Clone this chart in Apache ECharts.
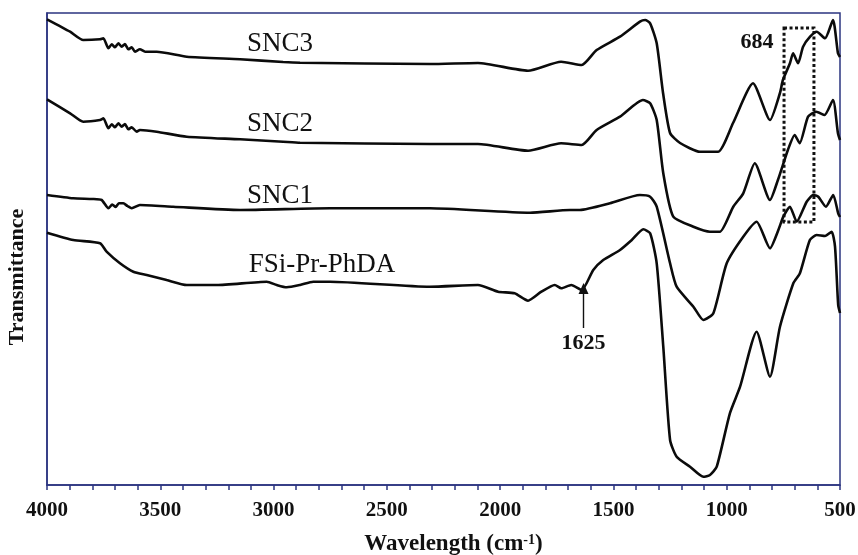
<!DOCTYPE html>
<html>
<head>
<meta charset="utf-8">
<script src="https://cdn.jsdelivr.net/npm/echarts@6/dist/echarts.min.js"></script>
<style>
  html, body { margin: 0; padding: 0; background: #fff; }
  #chart { width: 858px; height: 555px; }
</style>
</head>
<body>
<div id="chart"></div>
<script>
// FTIR spectra: [wavenumber (cm-1), transmittance (arb. units, stacked)]
const snc3 = [
  [4000, 465.7], [3898, 453.3], [3840, 445], [3766, 445.7], [3751, 446.7],
  [3729, 436.7], [3714, 440.7], [3700, 437.7], [3685, 441.7], [3670, 438.3],
  [3656, 441], [3641, 435.7], [3626, 437.7], [3612, 433.3], [3590, 435.7],
  [3567, 433.3], [3516, 433.3], [3383, 428.3], [3148, 425.7], [2958, 423],
  [2883, 422.3], [2310, 421], [2098, 422], [1877, 414.3], [1731, 423.3],
  [1640, 420], [1574, 435], [1471, 448.3], [1383, 463.3], [1360, 465],
  [1338, 461.7], [1309, 441.7], [1281, 392], [1250, 352], [1206, 342],
  [1118, 333.3], [1038, 333.3], [972, 362], [884, 401.7], [809, 365],
  [765, 392], [752, 405], [721, 421.7], [707, 431.7], [685, 421.7],
  [663, 438.3], [632, 448.3], [603, 453.3], [566, 446.7], [531, 465],
  [509, 431.7], [500, 428]
];
const snc2 = [
  [4000, 385.7], [3898, 371.7], [3840, 363.3], [3766, 365], [3751, 366.7],
  [3729, 356.7], [3714, 360.7], [3700, 357.7], [3685, 361.7], [3670, 358.3],
  [3656, 361], [3641, 355.7], [3626, 357.7], [3604, 353.3], [3590, 355],
  [3516, 353.3], [3383, 348.3], [3148, 345.7], [2958, 343.3], [2883, 342.3],
  [2310, 341], [2098, 341], [1877, 334.3], [1731, 341.7], [1640, 340],
  [1574, 355], [1471, 368.3], [1370, 385], [1338, 381.7], [1309, 365],
  [1280, 311.7], [1236, 268.3], [1147, 258.3], [1074, 253.3], [1030, 253.3],
  [971, 278.3], [927, 291.7], [876, 321.7], [809, 285], [774, 305],
  [730, 335], [700, 350], [678, 341.7], [641, 368.3], [605, 373.3],
  [568, 370], [531, 385], [509, 351.7], [500, 345]
];
const snc1 = [
  [4000, 290], [3884, 286.7], [3800, 286], [3759, 285], [3729, 276.7],
  [3712, 280.5], [3697, 278], [3683, 281.7], [3663, 281.7], [3645, 279],
  [3626, 276.7], [3590, 280], [3443, 278.3], [3148, 275], [2751, 276.7],
  [2310, 276.7], [1868, 272.3], [1692, 275], [1648, 275], [1515, 281.7],
  [1383, 290], [1338, 288.3], [1309, 278.3], [1250, 221.7], [1221, 198.3],
  [1147, 178.3], [1103, 165], [1059, 171.7], [1000, 221.7], [927, 248.3],
  [868, 263.3], [809, 236.7], [772, 255], [750, 268.3], [721, 278.3],
  [691, 263.3], [647, 283.3], [618, 290], [596, 288.3], [562, 278.3],
  [530, 290], [508, 271.7], [500, 268]
];
const fsi = [
  [4000, 252.3], [3884, 245], [3766, 241.7], [3737, 233.3], [3678, 221.7],
  [3619, 213.3], [3560, 210], [3472, 205], [3383, 200], [3251, 200],
  [3030, 203.3], [2986, 200], [2942, 197.7], [2883, 200], [2825, 203.3],
  [2751, 203.3], [2310, 198.3], [2098, 200], [2009, 193.3], [1936, 191.7],
  [1877, 184.3], [1818, 193.3], [1759, 200], [1730, 196.7], [1686, 200],
  [1640, 195], [1589, 215], [1545, 225], [1471, 235], [1419, 245],
  [1368, 255.7], [1338, 251.7], [1309, 221.7], [1280, 138.3], [1250, 45],
  [1221, 28.3], [1162, 18.3], [1103, 8.3], [1074, 10], [1044, 18.3],
  [986, 71.7], [941, 98.3], [868, 153.3], [809, 108.3], [765, 158.3],
  [706, 201.7], [677, 211.7], [633, 245], [603, 250], [566, 249],
  [537, 253.3], [522, 238.3], [508, 180], [500, 172]
];
const seriesNames = ['SNC3', 'SNC2', 'SNC1', 'FSi-Pr-PhDA'];
// label anchors [wavenumber, value]
const nameAnchors = [[2972, 441], [2972, 361], [2972, 289], [2786, 220]];
const peakBox = [[747, 457], [615, 263]];   // dotted box round 684
const peakBoxLabel = [866, 442.5];
const arrowFrom = [1632, 157];
const arrowTo = [1632, 196.5];

const navy = '#2b3580';
const serif = '"Liberation Serif", "Times New Roman", serif';

const chart = echarts.init(document.getElementById('chart'));

function nameMark(i) {
  return {
    symbol: 'rect',
    symbolSize: 0,
    silent: true,
    label: {
      show: true,
      position: 'inside',
      fontFamily: serif,
      fontSize: 27,
      color: '#111',
      formatter: seriesNames[i],
    },
    data: [{ coord: nameAnchors[i] }],
  };
}

const lineStyle = { color: '#0b0b0b', width: 2.6 };
const base = {
  type: 'line',
  showSymbol: false,
  smooth: 0.2,
  lineStyle,
  itemStyle: { color: '#0b0b0b' },
  silent: true,
  animation: false,
};

chart.setOption({
  animation: false,
  grid: {
    left: 47, right: 18, top: 13, bottom: 70,
    containLabel: false,
    outerBoundsMode: 'none',
    show: true,
    borderColor: navy,
    borderWidth: 1.5,
  },
  xAxis: {
    type: 'value',
    inverse: true,
    min: 500,
    max: 4000,
    interval: 500,
    axisLine: { lineStyle: { color: navy, width: 1.5 } },
    axisTick: { length: 5, lineStyle: { color: navy, width: 1.5 } },
    minorTick: { show: true, splitNumber: 5, length: 5, lineStyle: { color: navy, width: 1.5 } },
    splitLine: { show: false },
    axisLabel: {
      fontFamily: serif, fontWeight: 'bold', fontSize: 21, color: '#111', margin: 15,
      formatter: v => String(v),
    },
    name: 'Wavelength (cm{sup|-1})',
    nameLocation: 'middle',
    nameGap: 48,
    nameTextStyle: {
      fontFamily: serif, fontWeight: 'bold', fontSize: 23, color: '#111',
      padding: [0, 0, 0, 20],
      rich: { sup: { fontFamily: serif, fontWeight: 'bold', fontSize: 14, color: '#111', verticalAlign: 'top', padding: [0, 0, 9, 0] } },
    },
  },
  yAxis: {
    type: 'value',
    min: 0,
    max: 472,
    axisLine: { show: true, lineStyle: { color: navy, width: 1.5 } },
    axisTick: { show: false },
    axisLabel: { show: false },
    splitLine: { show: false },
    name: 'Transmittance',
    nameLocation: 'middle',
    nameGap: 19,
    nameTextStyle: {
      fontFamily: serif, fontWeight: 'bold', fontSize: 22, color: '#111',
      padding: [0, 56, 0, 0],
    },
  },
  series: [
    Object.assign({}, base, {
      name: seriesNames[0], data: snc3, markPoint: nameMark(0),
      markArea: {
        silent: true,
        itemStyle: { color: 'rgba(0,0,0,0)', borderColor: '#111', borderWidth: 3, borderType: [3, 2.5] },
        data: [[{ coord: peakBox[0] }, { coord: peakBox[1] }]],
      },
    }),
    Object.assign({}, base, { name: seriesNames[1], data: snc2, markPoint: nameMark(1) }),
    Object.assign({}, base, { name: seriesNames[2], data: snc1, markPoint: nameMark(2) }),
    Object.assign({}, base, {
      name: seriesNames[3], data: fsi, markPoint: nameMark(3),
      markLine: {
        silent: true,
        symbol: ['none', 'triangle'],
        symbolSize: [10, 11],
        lineStyle: { color: '#111', width: 1.4, type: 'solid' },
        label: {
          show: true, position: 'start', formatter: '1625', distance: 4,
          fontFamily: serif, fontWeight: 'bold', fontSize: 22, color: '#111',
        },
        data: [[{ coord: arrowFrom }, { coord: arrowTo }]],
      },
    }),
    {
      type: 'scatter',
      data: [],
      silent: true,
      markPoint: {
        symbol: 'rect', symbolSize: 0, silent: true,
        label: {
          show: true, position: 'inside', formatter: '684',
          fontFamily: serif, fontWeight: 'bold', fontSize: 22, color: '#111',
        },
        data: [{ coord: peakBoxLabel }],
      },
    },
  ],
});
</script>
</body>
</html>
